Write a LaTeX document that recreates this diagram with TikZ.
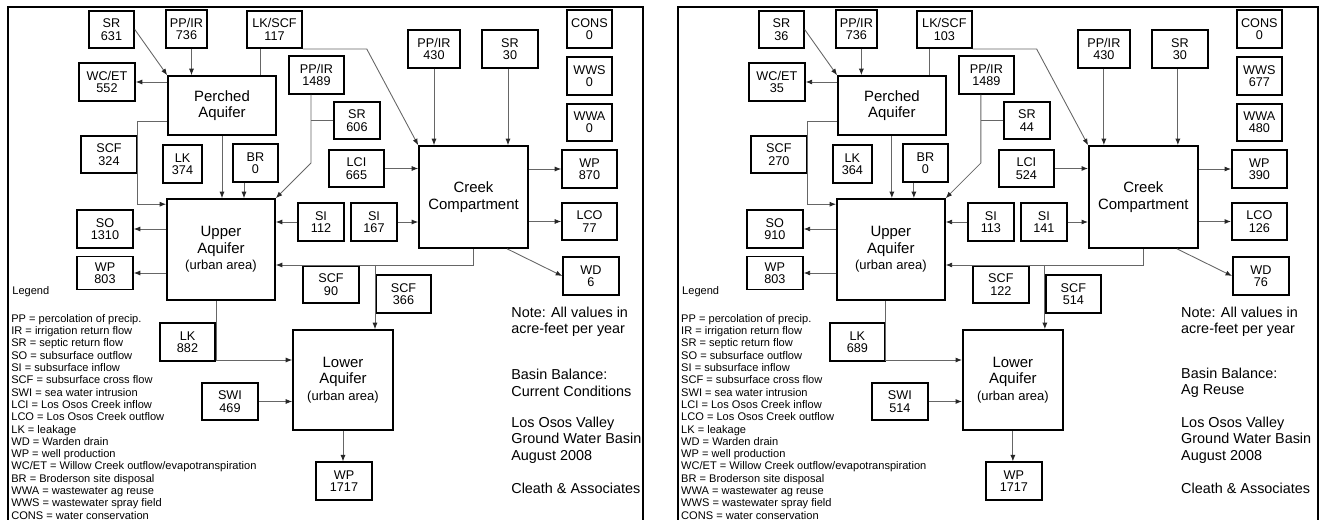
\documentclass[tikz,border=0pt]{standalone}
\usepackage{fontspec}
\setmainfont{Liberation Sans}
\usetikzlibrary{arrows.meta}

\tikzset{
  valbox/.style={draw, line width=0.9pt, inner sep=0pt, align=center,
    minimum width=1.1cm, minimum height=0.75cm, font=\fontsize{7.2}{7}\selectfont},
  tank/.style={draw, line width=0.9pt, inner sep=0pt, align=center,
    font=\fontsize{8.5}{9.3}\selectfont},
  flow/.style={black!60, line width=0.5pt, -{Latex[length=1.3mm,width=1mm,black!85]}},
  link/.style={black!60, line width=0.5pt},
  frame/.style={line width=0.9pt},
  remark/.style={anchor=west, align=left, inner sep=0pt, font=\fontsize{8.2}{9.3}\selectfont},
  legendtext/.style={anchor=north west, align=left, inner sep=0pt, font=\fontsize{6.3}{7}\selectfont},
}
\newcommand{\urban}{{\fontsize{7.4}{9}\selectfont (urban area)}}
\newcommand{\legendlist}{PP = percolation of precip.\\IR = irrigation return flow\\
  SR = septic return flow\\SO = subsurface outflow\\SI = subsurface inflow\\
  SCF = subsurface cross flow\\SWI = sea water intrusion\\LCI = Los Osos Creek inflow\\
  LCO = Los Osos Creek outflow\\LK = leakage\\WD = Warden drain\\WP = well production\\
  WC/ET = Willow Creek outflow/evapotranspiration\\BR = Broderson site disposal\\
  WWA = wastewater ag reuse\\WWS = wastewater spray field\\CONS = water conservation}

\begin{document}
\begin{tikzpicture}[x=0.02cm, y=-0.02cm]
\useasboundingbox (0,0) rectangle (1326,520);

\draw[frame] (8,520) -- (8,7) -- (643,7) -- (643,520);
\draw[frame] (678,520) -- (678,7) -- (1318,7) -- (1318,520);

% current conditions
\begin{scope}[name prefix=cur-]
\node[valbox, minimum width=0.9cm] (sr1) at (111.5,29.5) {SR\\631};
\node[valbox, minimum width=0.82cm] (ppir1) at (186.5,29) {PP/IR\\736};
\node[valbox] (lkscf) at (274.5,29.5) {LK/SCF\\117};
\node[valbox, minimum width=1.12cm] (wcet) at (107,82) {WC/ET\\552};
\node[tank, minimum width=2.16cm, minimum height=1.18cm] (perched) at (222,105.5) {Perched\\Aquifer};
\node[valbox] (ppir2) at (316.5,75) {PP/IR\\1489};
\node[valbox, minimum width=1.12cm] (scf1) at (109,154.5) {SCF\\324};
\node[valbox, minimum width=0.78cm] (lk1) at (182.5,164) {LK\\374};
\node[valbox, minimum width=0.9cm] (br) at (255.5,163) {BR\\0};
\node[valbox, minimum width=0.92cm] (sr2) at (357,120.5) {SR\\606};

\node[tank, minimum width=2.16cm, minimum height=2.02cm] (upper) at (221,249.5) {Upper\\Aquifer\\\urban};
\node[valbox, minimum width=1.12cm] (so) at (105,229) {SO\\1310};
\node[valbox, minimum width=1.12cm, minimum height=0.66cm] (wp1) at (105,273) {WP\\803};
\node[valbox, minimum width=0.92cm] (si1) at (321,222) {SI\\112};
\node[valbox, minimum width=0.92cm] (si2) at (374,222) {SI\\167};
\node[valbox, minimum width=1.12cm] (scf2) at (331,284.5) {SCF\\90};
\node[valbox] (scf3) at (403.5,294) {SCF\\366};

\node[tank, minimum width=2.18cm, minimum height=2.04cm] (creek) at (473.5,197) {Creek\\Compartment};
\node[valbox, minimum width=1.04cm] (ppir3) at (434,49) {PP/IR\\430};
\node[valbox, minimum width=1.12cm] (sr3) at (510,49) {SR\\30};
\node[valbox] (lci) at (356.5,168.5) {LCI\\665};
\node[valbox] (wp2) at (589.5,169) {WP\\870};
\node[valbox] (lco) at (589.5,221.5) {LCO\\77};
\node[valbox, minimum width=1.12cm] (wd) at (591,276) {WD\\6};
\node[valbox, minimum width=0.9cm] (cons) at (589.5,29) {CONS\\0};
\node[valbox, minimum width=0.9cm] (wws) at (589.5,76) {WWS\\0};
\node[valbox, minimum width=0.9cm] (wwa) at (589.5,122.5) {WWA\\0};

\node[tank, minimum width=2cm, minimum height=2cm] (lower) at (343,380) {Lower\\Aquifer\\\urban};
\node[valbox] (lk2) at (187.5,342) {LK\\882};
\node[valbox, minimum width=1.12cm] (swi) at (230,401.5) {SWI\\469};
\node[valbox, minimum width=1.12cm] (wp3) at (344,481) {WP\\1717};

\coordinate (kink) at (311,163);
\coordinate (split) at (375,265);

\draw[flow] (sr1.east) -- (perched.north west);
\draw[flow] ([xshift=0.1cm]ppir1.south) -- ([xshift=0.1cm]ppir1.south |- perched.north);
\draw[link] ([xshift=-0.29cm]lkscf.south) -- ([xshift=-0.29cm]lkscf.south |- perched.north);
\draw[flow] (lkscf.south east) -- ++(64,0) -- (creek.north west);
\draw[flow] (perched.west |- wcet) -- (wcet.east);
\draw[flow] ([yshift=-0.31cm]perched.west) -| (scf1.east) |- ([yshift=-0.12cm]upper.north west);
\draw[flow] (perched.south) -- (perched.south |- upper.north);
\draw[flow] ([xshift=-0.23cm]br.south) -- ([xshift=-0.23cm]br.south |- upper.north);
\draw[flow] ([xshift=-0.11cm]ppir2.south) -- (kink) -- (upper.north east);
\draw[link] (sr2.west) -- (sr2.west -| kink);
\draw[flow] (si1.west) -- (si1.west -| upper.east);
\draw[flow] (si2.east) -- (si2.east -| creek.west);
\draw[flow] (lci.east) -- (lci.east -| creek.west);
\draw[flow] (ppir3.south) -- (ppir3.south |- creek.north);
\draw[flow] ([xshift=-0.04cm]sr3.south) -- ([xshift=-0.04cm]sr3.south |- creek.north);
\draw[flow] (creek.east |- wp2) -- (wp2.west);
\draw[flow] (creek.east |- lco) -- (lco.west);
\draw[flow] ([xshift=0.67cm]creek.south) -- (wd.west);
\draw[link] (creek.south) |- (split);
\draw[flow] (split) -- (split -| upper.east);
\draw[flow] (split) -- (split |- lower.north);
\draw[flow] ([xshift=-0.1cm]upper.south) |- ([yshift=0.4cm]lower.west);
\draw[flow] (swi.east) -- (swi.east -| lower.west);
\draw[flow] (lower.south) -- (lower.south |- wp3.north);
\draw[flow] (upper.west |- so) -- (so.east);
\draw[flow] (upper.west |- wp1) -- (wp1.east);

\node[anchor=west, inner sep=0pt, font=\fontsize{6.3}{7}\selectfont] (legendhead) at (12,292) {Legend};
\node[legendtext] (legend) at (11,314) {\legendlist};
\node[remark] (note) at (511,321.5) {Note: All values in\\acre-feet per year};
\node[remark] (title) at (511,383) {Basin Balance:\\Current Conditions};
\node[remark] (basin) at (511,440) {Los Osos Valley\\Ground Water Basin\\August 2008};
\node[remark] (firm) at (511,488) {Cleath \& Associates};
\end{scope}

% ag reuse
\begin{scope}[xshift=13.4cm, name prefix=ag-]
\node[valbox, minimum width=0.9cm] (sr1) at (111.5,29.5) {SR\\36};
\node[valbox, minimum width=0.82cm] (ppir1) at (186.5,29) {PP/IR\\736};
\node[valbox] (lkscf) at (274.5,29.5) {LK/SCF\\103};
\node[valbox, minimum width=1.12cm] (wcet) at (107,82) {WC/ET\\35};
\node[tank, minimum width=2.16cm, minimum height=1.18cm] (perched) at (222,105.5) {Perched\\Aquifer};
\node[valbox] (ppir2) at (316.5,75) {PP/IR\\1489};
\node[valbox, minimum width=1.12cm] (scf1) at (109,154.5) {SCF\\270};
\node[valbox, minimum width=0.78cm] (lk1) at (182.5,164) {LK\\364};
\node[valbox, minimum width=0.9cm] (br) at (255.5,163) {BR\\0};
\node[valbox, minimum width=0.92cm] (sr2) at (357,120.5) {SR\\44};

\node[tank, minimum width=2.16cm, minimum height=2.02cm] (upper) at (221,249.5) {Upper\\Aquifer\\\urban};
\node[valbox, minimum width=1.12cm] (so) at (105,229) {SO\\910};
\node[valbox, minimum width=1.12cm, minimum height=0.66cm] (wp1) at (105,273) {WP\\803};
\node[valbox, minimum width=0.92cm] (si1) at (321,222) {SI\\113};
\node[valbox, minimum width=0.92cm] (si2) at (374,222) {SI\\141};
\node[valbox, minimum width=1.12cm] (scf2) at (331,284.5) {SCF\\122};
\node[valbox] (scf3) at (403.5,294) {SCF\\514};

\node[tank, minimum width=2.18cm, minimum height=2.04cm] (creek) at (473.5,197) {Creek\\Compartment};
\node[valbox, minimum width=1.04cm] (ppir3) at (434,49) {PP/IR\\430};
\node[valbox, minimum width=1.12cm] (sr3) at (510,49) {SR\\30};
\node[valbox] (lci) at (356.5,168.5) {LCI\\524};
\node[valbox] (wp2) at (589.5,169) {WP\\390};
\node[valbox] (lco) at (589.5,221.5) {LCO\\126};
\node[valbox, minimum width=1.12cm] (wd) at (591,276) {WD\\76};
\node[valbox, minimum width=0.9cm] (cons) at (589.5,29) {CONS\\0};
\node[valbox, minimum width=0.9cm] (wws) at (589.5,76) {WWS\\677};
\node[valbox, minimum width=0.9cm] (wwa) at (589.5,122.5) {WWA\\480};

\node[tank, minimum width=2cm, minimum height=2cm] (lower) at (343,380) {Lower\\Aquifer\\\urban};
\node[valbox] (lk2) at (187.5,342) {LK\\689};
\node[valbox, minimum width=1.12cm] (swi) at (230,401.5) {SWI\\514};
\node[valbox, minimum width=1.12cm] (wp3) at (344,481) {WP\\1717};

\coordinate (kink) at (311,163);
\coordinate (split) at (375,265);

\draw[flow] (sr1.east) -- (perched.north west);
\draw[flow] ([xshift=0.1cm]ppir1.south) -- ([xshift=0.1cm]ppir1.south |- perched.north);
\draw[link] ([xshift=-0.29cm]lkscf.south) -- ([xshift=-0.29cm]lkscf.south |- perched.north);
\draw[flow] (lkscf.south east) -- ++(64,0) -- (creek.north west);
\draw[flow] (perched.west |- wcet) -- (wcet.east);
\draw[flow] ([yshift=-0.31cm]perched.west) -| (scf1.east) |- ([yshift=-0.12cm]upper.north west);
\draw[flow] (perched.south) -- (perched.south |- upper.north);
\draw[flow] ([xshift=-0.23cm]br.south) -- ([xshift=-0.23cm]br.south |- upper.north);
\draw[flow] ([xshift=-0.11cm]ppir2.south) -- (kink) -- (upper.north east);
\draw[link] (sr2.west) -- (sr2.west -| kink);
\draw[flow] (si1.west) -- (si1.west -| upper.east);
\draw[flow] (si2.east) -- (si2.east -| creek.west);
\draw[flow] (lci.east) -- (lci.east -| creek.west);
\draw[flow] (ppir3.south) -- (ppir3.south |- creek.north);
\draw[flow] ([xshift=-0.04cm]sr3.south) -- ([xshift=-0.04cm]sr3.south |- creek.north);
\draw[flow] (creek.east |- wp2) -- (wp2.west);
\draw[flow] (creek.east |- lco) -- (lco.west);
\draw[flow] ([xshift=0.67cm]creek.south) -- (wd.west);
\draw[link] (creek.south) |- (split);
\draw[flow] (split) -- (split -| upper.east);
\draw[flow] (split) -- (split |- lower.north);
\draw[flow] ([xshift=-0.1cm]upper.south) |- ([yshift=0.4cm]lower.west);
\draw[flow] (swi.east) -- (swi.east -| lower.west);
\draw[flow] (lower.south) -- (lower.south |- wp3.north);
\draw[flow] (upper.west |- so) -- (so.east);
\draw[flow] (upper.west |- wp1) -- (wp1.east);

\node[anchor=west, inner sep=0pt, font=\fontsize{6.3}{7}\selectfont] (legendhead) at (12,292) {Legend};
\node[legendtext] (legend) at (11,314) {\legendlist};
\node[remark] (note) at (511,321.5) {Note: All values in\\acre-feet per year};
\node[remark] (title) at (511,383) {Basin Balance:\\Ag Reuse};
\node[remark] (basin) at (511,440) {Los Osos Valley\\Ground Water Basin\\August 2008};
\node[remark] (firm) at (511,488) {Cleath \& Associates};
\end{scope}
\end{tikzpicture}
\end{document}
